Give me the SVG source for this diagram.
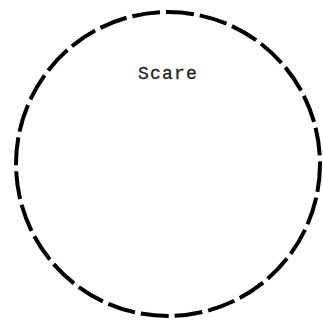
<svg xmlns="http://www.w3.org/2000/svg" width="323" height="323" viewBox="0 0 323 323">
<style>
.node{fill:none;stroke:#000;stroke-width:4;stroke-dasharray:28 6}
.lbl{font-family:"Liberation Mono","DejaVu Sans Mono",monospace;font-size:18px;fill:#222;text-anchor:middle;stroke:#222;stroke-width:0.3}
</style>
<rect width="323" height="323" fill="#fff"/>
<g id="scare">
<circle class="node" cx="168" cy="164" r="152"/>
<text class="lbl" x="168" y="79" letter-spacing="1.2">Scare</text>
</g>
<g id="connectors"/>
</svg>
